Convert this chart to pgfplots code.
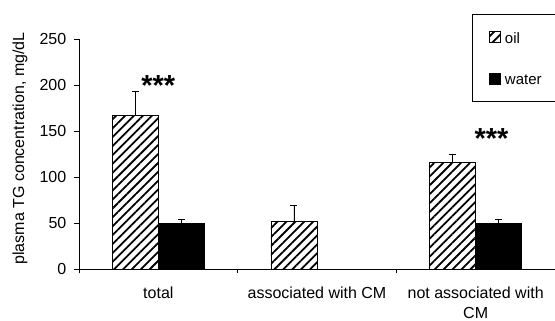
\documentclass[border=0pt]{standalone}
\usepackage{pgfplots}
\pgfplotsset{compat=1.18}
\usepackage{fontspec}
\setmainfont{Liberation Sans}
\usetikzlibrary{patterns.meta, calc}

\begin{document}
\begin{tikzpicture}
\begin{axis}[
  scale only axis, width=476pt, height=230pt,
  xmin=0, xmax=3, ymin=0, ymax=250,
  axis x line*=bottom, axis y line*=left,
  axis line style={black, line width=0.8pt},
  ybar=0pt, bar width=46pt,
  xtick={0,1,2,3}, xticklabels={},
  extra x ticks={0.5,1.5,2.5},
  extra x tick labels={total, associated with CM, {not associated with\\CM}},
  extra x tick style={major tick length=0pt},
  xticklabel style={align=center, font=\fontsize{16}{20}\selectfont, inner sep=0pt, yshift=-18pt},
  ytick={0,50,...,250},
  yticklabel style={font=\fontsize{16}{19}\selectfont, inner sep=0pt, xshift=-8pt},
  /pgf/number format/assume math mode=true,
  tick align=outside, major tick length=4.5pt,
  tick style={black, line width=0.8pt},
  ylabel={plasma TG concentration, mg/dL},
  ylabel style={at={(axis description cs:-0.124,0.524)}, anchor=center, font=\fontsize{16}{19}\selectfont},
  legend style={at={(0.826,1.069)}, anchor=north west, draw=none, fill=none,
    font=\fontsize{15}{18}\selectfont, inner xsep=17pt, inner ysep=8pt, row sep=27pt,
    nodes={inner sep=0pt, text height=11pt, text depth=3pt},
    /tikz/every odd column/.append style={column sep=4pt}},
  legend cell align=left,
  legend image code/.code={\draw[#1, line width=0.6pt] (0pt,-3.5pt) rectangle (11pt,7.5pt);},
  clip=false,
]
\addplot+[draw=black, line width=0.9pt, fill=white,
  pattern={Lines[angle=45,distance=6.3pt,line width=1.8pt]}, pattern color=black,
  error bars/.cd, y dir=plus, y explicit,
  error bar style={black, line width=0.8pt},
  error mark options={rotate=90, mark size=3.5pt, black, line width=0.8pt}]
  coordinates {(0.5,166.6) +- (0,26) (1.5,51.4) +- (0,18.2) (2.5,115.6) +- (0,9.5)};
\addlegendentry{oil}
\addplot+[draw=black, line width=0.9pt, fill=black,
  error bars/.cd, y dir=plus, y explicit,
  error bar style={black, line width=0.8pt},
  error mark options={rotate=90, mark size=3.5pt, black, line width=0.8pt}]
  coordinates {(0.5,49.3) +- (0,4.7) (2.5,49.7) +- (0,4.3)};
\addlegendentry{water}
\draw[black, line width=0.8pt] (rel axis cs:0.8256,1.1087) rectangle (rel axis cs:1.02,0.7304);
\node[font=\bfseries\fontsize{29}{29}\selectfont, anchor=base, inner sep=0pt] at (axis cs:0.5,188.5) {***};
\node[font=\bfseries\fontsize{29}{29}\selectfont, anchor=base, inner sep=0pt] at (axis cs:2.6,131.5) {***};
\coordinate (o) at (rel axis cs:0,0);
\end{axis}
\pgfresetboundingbox
\path ($(o)+(-79pt,-52pt)$) rectangle ($(o)+(476pt,269pt)$);
\end{tikzpicture}
\end{document}
